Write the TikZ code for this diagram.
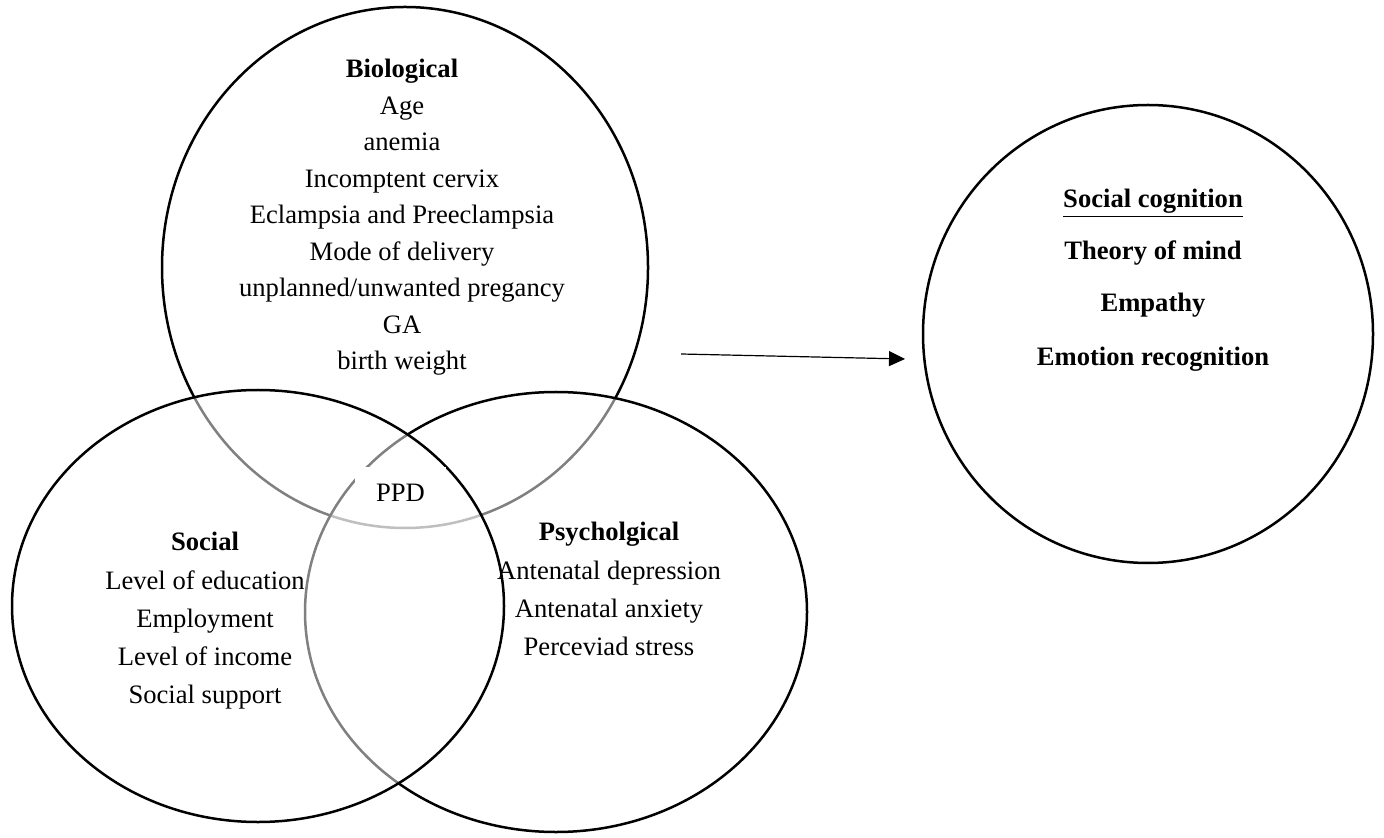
\documentclass[tikz,border=0pt]{standalone}
\usepackage{fontspec}
\setmainfont{Liberation Serif}
\usetikzlibrary{arrows.meta}
\begin{document}
\begin{tikzpicture}[x=0.5pt,y=-0.5pt,
  ring/.style={line width=1.25pt, draw=black},
  veil/.style={ring, fill=white, fill opacity=0.5},
  txt/.style={font=\fontsize{13.3}{16}\selectfont, inner sep=0pt, anchor=base},
  head/.style={txt, font=\fontsize{13.3}{16}\selectfont\bfseries},
  link/.style={line width=0.6pt, -{Triangle[length=8pt,width=7.5pt]}}
]
\useasboundingbox (0,0) rectangle (1384,838);
% circles
\draw[ring] (405,267.5) ellipse [x radius=243, y radius=260.5];
\draw[veil] (556,612) ellipse [x radius=251, y radius=220];
\draw[veil] (258,606) ellipse [x radius=246, y radius=216];
\draw[ring] (1148,334) ellipse [x radius=225, y radius=229];
% PPD
\node[fill=white, inner sep=0pt, minimum width=45.5pt, minimum height=26pt,
      font=\fontsize{13.3}{16}\selectfont] (ppd) at (400.5,493) {PPD};
% Biological
\node[head] (bio) at (402,78) {Biological};
\node[txt] (b1) at (402,115) {Age};
\node[txt] (b2) at (402,151) {anemia};
\node[txt] (b3) at (402,188) {Incomptent cervix};
\node[txt] (b4) at (402,224) {Eclampsia and Preeclampsia};
\node[txt] (b5) at (402,261) {Mode of delivery};
\node[txt] (b6) at (402,297) {unplanned/unwanted pregancy};
\node[txt] (b7) at (402,334) {GA};
\node[txt] (b8) at (402,370) {birth weight};
% Social
\node[head] (soc) at (205,550) {Social};
\node[txt] (s1) at (205,589) {Level of education};
\node[txt] (s2) at (205,627) {Employment};
\node[txt] (s3) at (205,665) {Level of income};
\node[txt] (s4) at (205,703) {Social support};
% Psychological
\node[head] (psy) at (609,540) {Psycholgical};
\node[txt] (p1) at (609,579) {Antenatal depression};
\node[txt] (p2) at (609,617) {Antenatal anxiety};
\node[txt] (p3) at (609,655) {Perceviad stress};
% Social cognition
\node[head] (sc) at (1153,208) {\underline{Social cognition}};
\node[head] (c1) at (1153,260) {Theory of mind};
\node[head] (c2) at (1153,312) {Empathy};
\node[head] (c3) at (1153,366) {Emotion recognition};
% arrow
\coordinate (a0) at (681,354);
\coordinate (a1) at (905,359);
\draw[link] (a0) -- (a1);
\end{tikzpicture}
\end{document}
